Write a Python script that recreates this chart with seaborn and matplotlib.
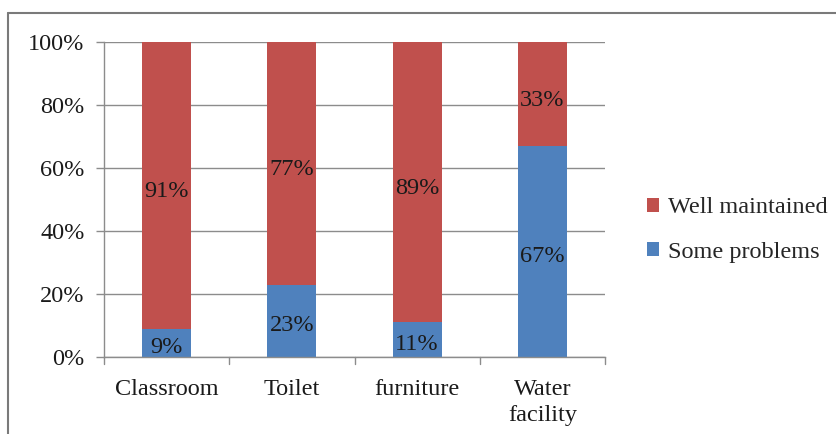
import matplotlib
matplotlib.use("Agg")
import matplotlib.pyplot as plt
import seaborn as sns
import pandas as pd
from matplotlib.patches import Patch
from matplotlib.lines import Line2D

categories = ["Classroom", "Toilet", "furniture", "Water\nfacility"]
some_problems = [9, 23, 11, 67]
well_maintained = [91, 77, 89, 33]
yticks = [0, 20, 40, 60, 80, 100]
ytick_labels = ["0%", "20%", "40%", "60%", "80%", "100%"]

RED = "#C0504D"
BLUE = "#4F81BD"
GRID = "#8c8c8c"
FS = 17.5

sns.set_style("white")
plt.rcParams["font.family"] = ["Liberation Serif", "DejaVu Serif"]

df = pd.DataFrame({
    "cat": categories,
    "problems": some_problems,
    "well": well_maintained,
})
df["total"] = df["problems"] + df["well"]

fig = plt.figure(figsize=(8.36, 4.34), dpi=100)
ax = fig.add_axes([104/836, 77/434, (605-104)/836, (357-42)/434])

sns.barplot(data=df, x="cat", y="total", color=RED, width=0.39, ax=ax,
            saturation=1, zorder=3, edgecolor="none")
sns.barplot(data=df, x="cat", y="problems", color=BLUE, width=0.39, ax=ax,
            saturation=1, zorder=4, edgecolor="none")

ax.set_xlim(-0.5, len(categories) - 0.5)
ax.set_ylim(0, 100)
ax.set_yticks(yticks)
ax.set_yticklabels(ytick_labels, fontsize=FS)
ax.set_xlabel("")
ax.set_ylabel("")
ax.set_xticks(range(len(categories)))
ax.set_xticklabels(categories, fontsize=FS, linespacing=1.3)
ax.tick_params(axis="x", length=0, pad=16)
ax.tick_params(axis="y", length=6, color=GRID, width=1, left=True, pad=8)
for t in ax.get_yticklabels():
    t.set_color("#1a1a1a")
for t in ax.get_xticklabels():
    t.set_color("#1a1a1a")

ax.yaxis.grid(True, color=GRID, linewidth=1, zorder=0)
ax.set_axisbelow(True)
for s in ["top", "right"]:
    ax.spines[s].set_visible(False)
for s in ["left", "bottom"]:
    ax.spines[s].set_color(GRID)
    ax.spines[s].set_linewidth(1)
    ax.spines[s].set_zorder(5)

# category separator ticks below axis
for b in [x - 0.5 for x in range(len(categories) + 1)]:
    ax.add_line(Line2D([b, b], [0, -2.2], color=GRID, linewidth=1,
                       clip_on=False, transform=ax.transData))

# data labels
for i, (p, w) in enumerate(zip(some_problems, well_maintained)):
    ax.text(i, p / 2 - 1.5, f"{p}%", ha="center", va="center", fontsize=FS,
            color="#1a1a1a", zorder=6)
    ax.text(i, p + w / 2 - 2.0, f"{w}%", ha="center", va="center", fontsize=FS,
            color="#1a1a1a", zorder=6)

handles = [Patch(facecolor=RED, edgecolor="none", label="Well maintained"),
           Patch(facecolor=BLUE, edgecolor="none", label="Some problems")]
fig.legend(handles=handles, loc="center left", bbox_to_anchor=(647/836, 1 - 230/434),
           frameon=False, fontsize=FS, handlelength=0.5, handleheight=0.5,
           handletextpad=0.35, labelspacing=0.95, borderaxespad=0, borderpad=0)

# outer border (left and top)
fig.add_artist(Line2D([8/836, 8/836], [0, 1 - 13/434], color="#7a7a7a",
                      linewidth=1.5, transform=fig.transFigure))
fig.add_artist(Line2D([8/836, 1], [1 - 13/434, 1 - 13/434], color="#7a7a7a",
                      linewidth=1.5, transform=fig.transFigure))

fig.savefig("out.png", dpi=100)
